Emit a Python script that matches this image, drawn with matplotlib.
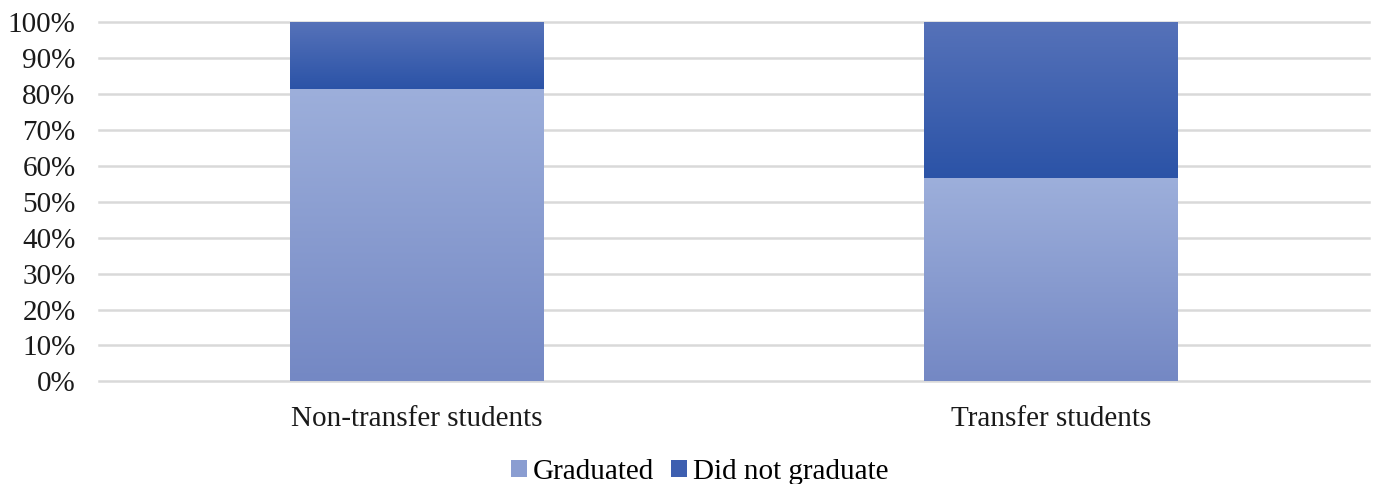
import matplotlib.pyplot as plt
import numpy as np
from matplotlib.colors import LinearSegmentedColormap
from matplotlib.ticker import PercentFormatter

plt.rcParams['font.family'] = ['Liberation Serif', 'DejaVu Serif']

categories = ['Non-transfer students', 'Transfer students']
graduated = [81.5, 56.5]
not_graduated = [18.5, 43.5]

# gradient colours, top -> bottom
grad_cols = ['#9dafdb', '#7488c4']
notgrad_cols = ['#5672b9', '#2b53a7']

fig = plt.figure(figsize=(13.77, 4.84), dpi=100)
ax = fig.add_axes([0.072, 0.212, 0.922, 0.742])

x = np.arange(len(categories))
b1 = ax.bar(x, graduated, width=0.4, color='#8a9dd1', label='Graduated', zorder=2)
b2 = ax.bar(x, not_graduated, width=0.4, bottom=graduated, color='#3e5fb0',
            label='Did not graduate', zorder=2)

# vertical gradient fill inside each bar segment
grad = np.linspace(0, 1, 256).reshape(-1, 1)
for bars, cols in [(b1, grad_cols), (b2, notgrad_cols)]:
    cmap = LinearSegmentedColormap.from_list('g', cols)
    for p in bars:
        x0, y0 = p.get_x(), p.get_y()
        im = ax.imshow(grad, cmap=cmap, aspect='auto', origin='upper',
                       extent=(x0, x0 + p.get_width(), y0, y0 + p.get_height()),
                       zorder=2.5)
        im.set_clip_path(p)

ax.set_xlim(-0.5, 1.5)
ax.set_ylim(0, 100)
ax.set_yticks(np.arange(0, 101, 10))
ax.yaxis.set_major_formatter(PercentFormatter(decimals=0))
ax.set_xticks(x)
ax.set_xticklabels(categories)
ax.tick_params(length=0, labelsize=21, colors='#1a1a1a')
ax.tick_params(axis='x', pad=18)
ax.tick_params(axis='y', pad=17)
ax.grid(axis='y', color='#d9d9d9', linewidth=1.8, zorder=0)
for gl in ax.get_ygridlines():
    gl.set_clip_on(False)
ax.set_axisbelow(True)
for s in ax.spines.values():
    s.set_visible(False)

fig.legend(handles=[b1, b2], loc='center', bbox_to_anchor=(0.508, 0.025), ncol=2,
           frameon=False, fontsize=21, handlelength=0.55, handleheight=0.55,
           handletextpad=0.2, columnspacing=0.6, borderpad=0)

plt.savefig('out.png', dpi=100)
